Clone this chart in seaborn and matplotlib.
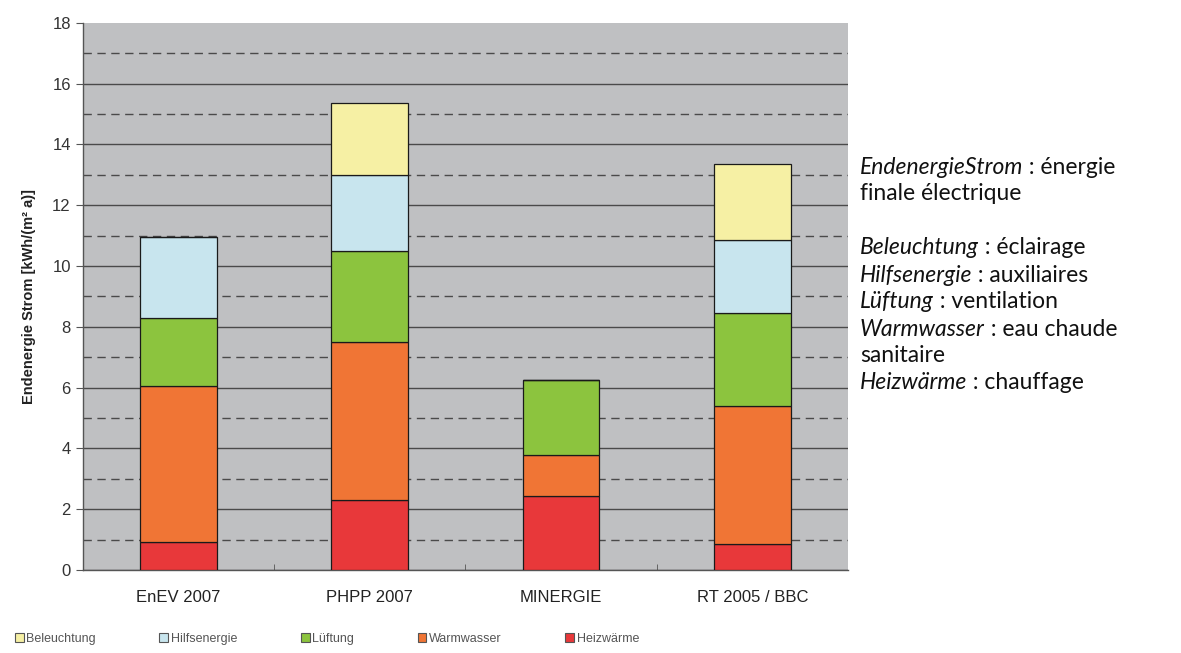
import matplotlib
matplotlib.use("Agg")
import matplotlib.pyplot as plt
import seaborn as sns
import pandas as pd
from matplotlib.patches import Patch

# data (kWh/(m² a))
categories = ["EnEV 2007", "PHPP 2007", "MINERGIE", "RT 2005 / BBC"]
heizwaerme = [0.92, 2.30, 2.45, 0.85]
warmwasser = [5.13, 5.20, 1.35, 4.55]
lueftung = [2.25, 3.00, 2.45, 3.05]
hilfsenergie = [2.65, 2.50, 0.00, 2.40]
beleuchtung = [0.00, 2.35, 0.00, 2.50]

series = ["Heizwärme", "Warmwasser", "Lüftung", "Hilfsenergie", "Beleuchtung"]
colors = {
    "Heizwärme": "#e8383a",
    "Warmwasser": "#f07535",
    "Lüftung": "#8cc43e",
    "Hilfsenergie": "#c8e5ee",
    "Beleuchtung": "#f6f0a4",
}

df = pd.DataFrame({
    "Kategorie": categories,
    "Heizwärme": heizwaerme,
    "Warmwasser": warmwasser,
    "Lüftung": lueftung,
    "Hilfsenergie": hilfsenergie,
    "Beleuchtung": beleuchtung,
})

sns.set_style("white")
plt.rcParams["font.family"] = ["Liberation Sans", "DejaVu Sans"]

fig = plt.figure(figsize=(11.81, 6.53), dpi=100)
ax = fig.add_axes([0.070, 0.127, 0.648, 0.838])
ax.set_facecolor("#bfc0c2")

bottom = pd.Series([0.0] * len(categories))
for s in series:
    vals = df[s]
    sns.barplot(x=df["Kategorie"], y=vals, bottom=bottom, color=colors[s],
                saturation=1, width=0.4, edgecolor="#1a1a1a", linewidth=0.9,
                ax=ax, zorder=3)
    bottom = bottom + vals

ax.set_xlim(-0.5, 3.5)
ax.set_ylim(0, 18)
ax.set_yticks(range(0, 19, 2))
ax.set_yticks(range(1, 18, 2), minor=True)
ax.grid(which="major", axis="y", color="#4a4a4a", linewidth=1.0, linestyle="-", zorder=1)
ax.grid(which="minor", axis="y", color="#4a4a4a", linewidth=1.0, linestyle=(0, (6, 4)), zorder=1)
ax.set_axisbelow(True)
ax.get_ygridlines()[-1].set_visible(False)

for sp in ["top", "right"]:
    ax.spines[sp].set_visible(False)
for sp in ["left", "bottom"]:
    ax.spines[sp].set_color("#555555")
    ax.spines[sp].set_linewidth(1.0)

ax.tick_params(axis="y", which="major", length=5, color="#555555", labelsize=12,
               labelcolor="#333333", direction="out", left=True)
ax.tick_params(axis="y", which="minor", length=0)
ax.tick_params(axis="x", which="major", length=0, labelsize=12, labelcolor="#222222", pad=14)
ax.set_xticks([0.5, 1.5, 2.5], minor=True)
ax.tick_params(axis="x", which="minor", length=4, direction="in", color="#555555", bottom=True)

ax.set_xlabel("")
ax.set_ylabel("Endenergie Strom [kWh/(m² a)]", fontsize=10.5, fontweight="bold",
              color="#222222", labelpad=12)

handles = [Patch(facecolor=colors[s], edgecolor="#555555", linewidth=0.8, label=s)
           for s in reversed(series)]
leg = fig.legend(handles=handles, loc="lower left", bbox_to_anchor=(0.003, -0.005),
                 ncol=5, frameon=False, fontsize=9, handlelength=0.7, handleheight=0.7,
                 handletextpad=0.2, columnspacing=5.1)
for t in leg.get_texts():
    t.set_color("#555555")

# right-hand annotation (German term in italics, French translation upright)
lines = [
    ("EndenergieStrom", " : énergie"),
    ("", "finale électrique"),
    None,
    ("Beleuchtung", " : éclairage"),
    ("Hilfsenergie", " : auxiliaires"),
    ("Lüftung", " : ventilation"),
    ("Warmwasser", " : eau chaude"),
    ("", "sanitaire"),
    ("Heizwärme", " : chauffage"),
]
fig.canvas.draw()
renderer = fig.canvas.get_renderer()
x0 = 860 / 1181
y = 1 - 167 / 653
step = 27 / 653
for item in lines:
    if item is not None:
        ital, rest = item
        x = x0
        if ital:
            t = fig.text(x, y, ital, fontsize=16.5, style="italic", family="Lato",
                         va="center", ha="left", color="#111111")
            bb = t.get_window_extent(renderer)
            x = bb.x1 / fig.bbox.width
        fig.text(x, y, rest, fontsize=16.5, family="Lato", va="center", ha="left",
                 color="#111111")
    y -= step

fig.savefig("out.png", dpi=100)
